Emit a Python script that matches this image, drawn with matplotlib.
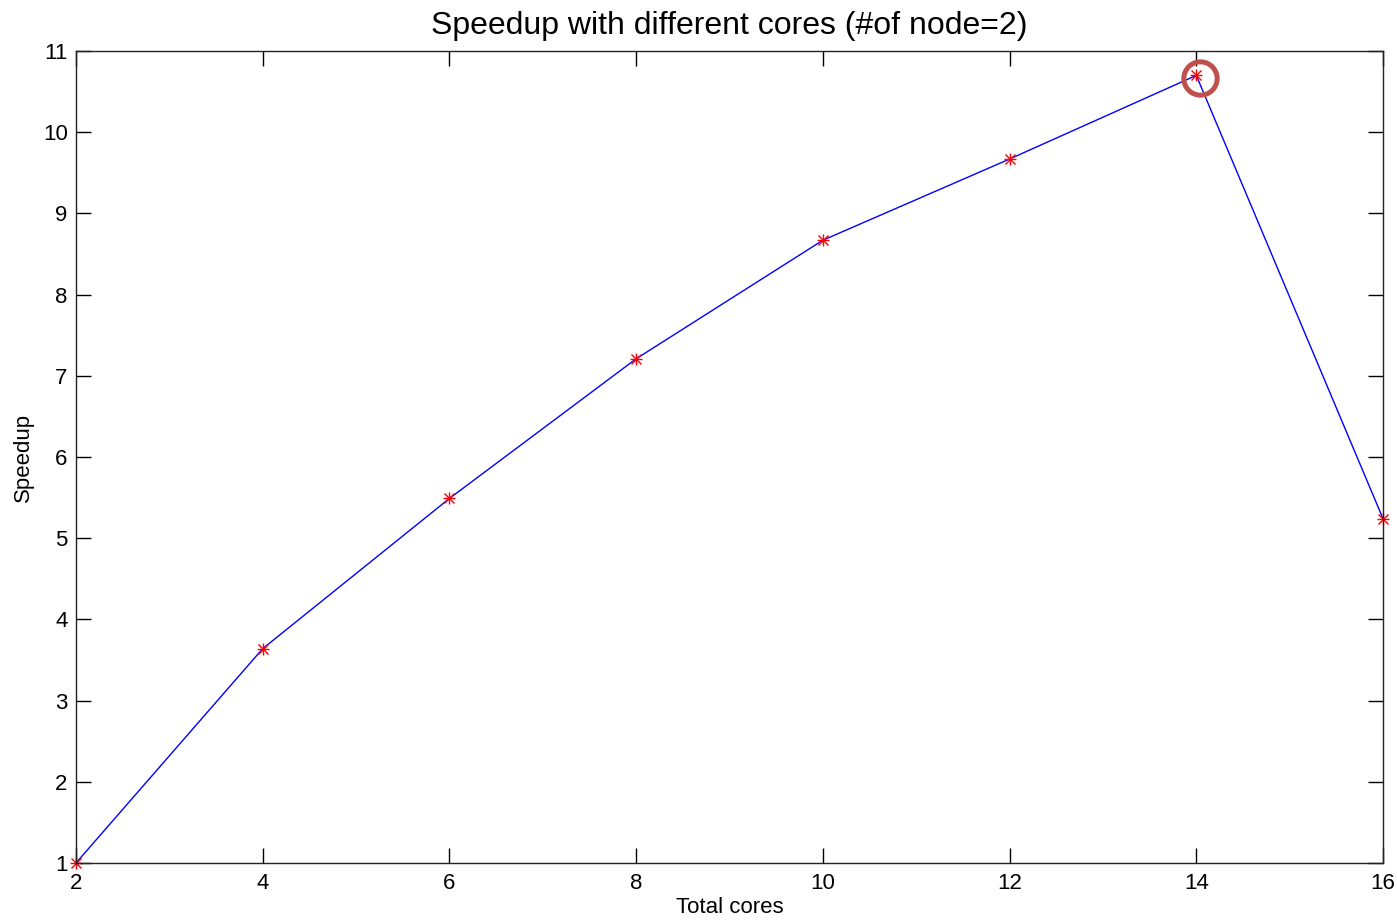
import matplotlib
matplotlib.use("Agg")
import matplotlib.pyplot as plt
import matplotlib.transforms as mtransforms

# ---- Data ----
total_cores = [2, 4, 6, 8, 10, 12, 14, 16]
speedup = [1.0, 3.64, 5.49, 7.21, 8.67, 9.67, 10.70, 5.24]
x_ticks = [2, 4, 6, 8, 10, 12, 14, 16]
y_ticks = [1, 2, 3, 4, 5, 6, 7, 8, 9, 10, 11]

plt.rcParams.update({
    'font.family': ['Liberation Sans', 'DejaVu Sans'],
    'xtick.direction': 'in',
    'ytick.direction': 'in',
    'xtick.top': True,
    'ytick.right': True,
})

fig = plt.figure(figsize=(13.97, 9.23), dpi=100)
ax = fig.add_axes([0.0544, 0.065, 0.9356, 0.8797])

# MATLAB-style asterisk marker: '+' and 'x' overlaid
ax.plot(total_cores, speedup, color='blue', linewidth=1.0)
ax.plot(total_cores, speedup, linestyle='', marker='+', markersize=9,
        markeredgecolor='red', markeredgewidth=1.0, clip_on=False)
ax.plot(total_cores, speedup, linestyle='', marker='x', markersize=7,
        markeredgecolor='red', markeredgewidth=1.0, clip_on=False)

# Highlight circle around the peak
i_max = speedup.index(max(speedup))
offset = mtransforms.offset_copy(ax.transData, fig=fig, x=3, y=-2, units='points')
ax.plot(total_cores[i_max], speedup[i_max], marker='o', markersize=24,
        markerfacecolor='none', markeredgecolor='#c0504d',
        markeredgewidth=3.6, transform=offset, clip_on=False, zorder=5)

ax.set_xlim(2, 16)
ax.set_ylim(1, 11)
ax.set_xticks(x_ticks)
ax.set_yticks(y_ticks)
ax.tick_params(axis='both', which='major', length=11, width=1.0,
               labelsize=16, pad=6)
ax.tick_params(axis='x', pad=7)
for s in ax.spines.values():
    s.set_linewidth(1.0)
    s.set_color('#222222')

ax.set_title('Speedup with different cores (#of node=2)', fontsize=23, pad=12)
ax.set_xlabel('Total cores', fontsize=16, labelpad=2)
ax.set_ylabel('Speedup', fontsize=16, labelpad=6)

fig.savefig('out.png', dpi=100)
